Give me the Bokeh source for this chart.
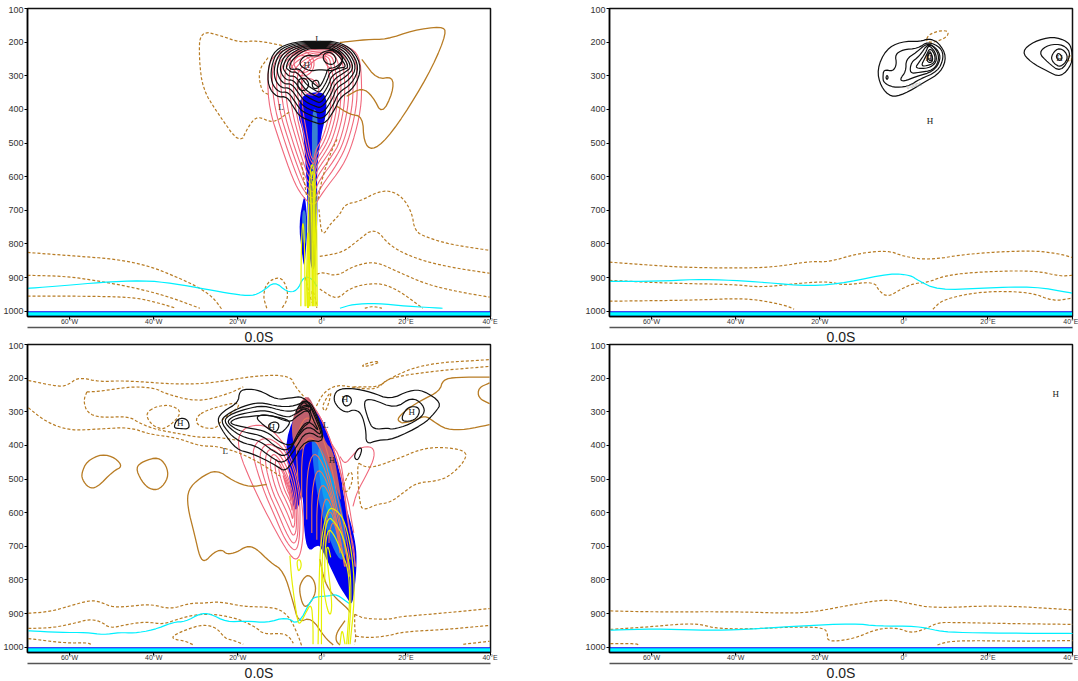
from bokeh.plotting import figure
from bokeh.layouts import column, row
from bokeh.models import FixedTicker, LinearAxis, Range1d
from bokeh.core.properties import value
from bokeh.embed import file_html
from bokeh.resources import INLINE

# ---- axes ----
P_TICKS = [100, 200, 300, 400, 500, 600, 700, 800, 900, 1000]
LON_TICKS = [-60, -40, -20, 0, 20, 40]
LON_LABELS = ["60°W", "40°W", "20°W", "0°", "20°E", "40°E"]
SECTION = "0.0S"

# ---- surface band ----
BAND_LON = [-70, 40]
BAND_TOP = [1000, 1000]
BAND_INNER = [1003, 1003]
BAND_LOW = [1013, 1013]
BAND_BOTTOM = [1016, 1016]

# ---- panel A (upper left) ----
A_BLUE_LON = [[-5.9, -4.8, 0, 1.2, 0.9, 0, -0.9, -1.2, -1.0, -1.5, -2.5, -3.2, -3.5, -4, -4.4],
              [-4.2, -5.5, -4.8, -4.2, -3.8, -3.4, -3.8]]
A_BLUE_P = [[409, 355, 346, 370, 421, 468, 540, 608, 700, 870, 880, 800, 640, 540, 468],
            [650, 740, 820, 875, 820, 740, 680]]
A_MID_LON = [[-2.4, -1.2, -0.9, -1.4, -1.9, -2.3], [-4.8, -3.7, -3.7, -4.5]]
A_MID_P = [[400, 400, 470, 600, 640, 600], [700, 700, 800, 800]]
A_RED_LON = [
    [-13, -12.5, -10, -6.9, -4.7, -1.9, 0.2, 5, 7.4, 9.3, 9.5, 9, 6, 0, -6, -12],
    [-12, -11.2, -8.8, -5.9, -4.2, -1.9, -0.2, 3.8, 6.2, 8.2, 8.5, 8, 5.4, 0, -5.6, -11],
    [-11, -10.2, -7.8, -5.2, -3.8, -1.9, -0.6, 3.0, 5.2, 7.2, 7.5, 7, 4.8, 0, -5, -10],
    [-10, -9.2, -6.9, -4.6, -3.4, -1.9, -0.9, 2.3, 4.3, 6.2, 6.5, 6, 4.2, 0, -4.4, -9],
    [-9, -8.2, -6.1, -4.1, -3.1, -1.9, -1.1, 1.7, 3.5, 5.3, 5.5, 5, 3.6, 0, -3.8, -8],
    [-8, -7.2, -5.4, -3.7, -2.9, -1.9, -1.2, 1.2, 2.8, 4.4, 4.6, 4, 3, 0, -3.2, -7],
    [-7, -6.3, -4.8, -3.4, -2.7, -1.9, -1.3, 0.8, 2.2, 3.6, 3.8, 3, 2.4, 0, -2.6, -6],
    [-6, -5.5, -4.2, -3.1, -2.5, -1.9, -1.4, 0.4, 1.6, 2.8, 3, 2.2, 1.8, 0, -2, -5],
    [-5, -4.6, -3.6, -2.8, -2.4, -1.9, -1.5, 0, 1.1, 2.1, 2.2, 1.4, 1.2, 0, -1.4, -4],
    [-8, -6, -3, -1.5, -3, -6],
    [-7, -5.4, -3.2, -2.2, -3.4, -5.6],
    [0.5, 2.2, 4.4, 4.8, 3, 1],
    [-5, -3.4, -1.5, -0.4, -2, -4.2],
]
A_RED_P = [
    [300, 400, 498, 608, 658, 690, 646, 569, 498, 400, 320, 240, 210, 205, 210, 240],
    [300, 400, 498, 600, 645, 670, 630, 560, 498, 400, 320, 245, 215, 210, 215, 245],
    [300, 400, 498, 590, 630, 650, 610, 550, 498, 400, 320, 250, 220, 215, 220, 250],
    [300, 400, 498, 580, 615, 630, 595, 540, 498, 400, 320, 255, 225, 220, 225, 255],
    [300, 400, 490, 570, 600, 610, 580, 530, 490, 400, 320, 260, 230, 225, 230, 260],
    [300, 400, 485, 560, 585, 595, 565, 520, 480, 400, 320, 265, 235, 230, 235, 265],
    [300, 400, 480, 550, 570, 580, 550, 510, 470, 400, 320, 270, 240, 235, 240, 270],
    [300, 400, 475, 540, 555, 565, 535, 500, 460, 400, 320, 275, 245, 240, 245, 275],
    [300, 400, 470, 530, 545, 550, 520, 490, 450, 400, 320, 280, 250, 245, 250, 280],
    [250, 225, 230, 265, 300, 300],
    [260, 238, 243, 270, 290, 290],
    [240, 225, 235, 265, 285, 270],
    [320, 305, 315, 345, 360, 350],
]
A_DASH_LON = [
    [-9.5, -15.4, -19.5, -23.5, -29, -29.2, -28.3, -24.9, -19.5, -17.6, -15.4, -11.6, -7.6],
    [-12.8, -15.2, -14.3, -12.8],
    [-70, -60.6, -48.7, -40.9, -34.4, -29.7, -25.9, -23.8],
    [-70, -60.6, -52.7, -44.9, -36.8, -29],
    [-70, -56.8, -44.9, -39.2, -34.7],
    [-13.1, -14, -13.1, -10, -8.3, -8.1, -9.5],
    [-0.7, 0, 1.9, 4.3, 5.5, 9, 13.1, 16.2, 19.2, 21.4, 22.1, 24.9, 30.4, 39.9],
    [-0.5, 5, 8.3, 12.6, 16.2, 22.6, 30.4, 39.9],
    [-1.2, 0.2, 3.6, 7.4, 12.6, 17.8, 24.9, 32.8, 39.9],
    [-0.5, 3.6, 6.7, 13.1, 17.8, 24],
    [10.2, 12.1, 14.3],
    [-3.9, -3, -2, -2.5, -1.5, -1.2],
    [3.6, 1.9, 0, -0.9],
    [-4.8, -4.3, -3.6],
]
A_DASH_P = [
    [210, 195, 201, 183, 165, 251, 340, 409, 504, 453, 418, 442, 406],
    [246, 287, 347, 355],
    [825, 834, 845, 866, 899, 926, 958, 994],
    [893, 896, 911, 929, 955, 991],
    [955, 955, 958, 974, 991],
    [991, 955, 914, 896, 926, 964, 991],
    [697, 780, 742, 712, 682, 673, 646, 641, 661, 706, 762, 780, 801, 819],
    [837, 825, 792, 750, 807, 845, 869, 887],
    [890, 884, 896, 866, 851, 881, 920, 943, 958],
    [934, 967, 929, 914, 934, 991],
    [991, 985, 991],
    [900, 950, 985, 930, 960, 990],
    [489, 534, 608, 667],
    [557, 608, 658],
]
A_SOLID_LON = [
    [4.3, 10.7, 15.4, 21.6, 28.5, 29.7, 26.4, 20.9, 15.4, 11.9, 10, 9.7, 6.7, 3.6],
    [9.5, 13.1, 16.9, 16.9, 14.3, 12.1, 9.5, 5.9],
]
A_SOLID_P = [
    [201, 192, 192, 165, 153, 171, 272, 391, 489, 522, 498, 421, 415, 391],
    [251, 311, 302, 349, 415, 361, 335, 361],
]
A_CYAN_LON = [
    [-70, -60.6, -52.7, -42.5, -35.4, -27.3, -21.1, -16.6, -14, -11.2, -8.3, -5.9, -4.3, -2.4, -1.2],
    [4.3, 7.4, 13.1, 20.2, 28.7],
]
A_CYAN_P = [
    [932, 923, 914, 908, 917, 935, 949, 955, 940, 911, 943, 940, 896, 902, 926],
    [991, 979, 976, 985, 991],
]
A_YELLOW_LON = [
    [-5, -4.9, -4.5, -4.1, -4],
    [-3.4, -3.2, -2.3, -1.3, -1.1],
    [-3, -2.8, -2.3, -1.6, -1.4],
    [-2.6, -2.5, -2.1, -1.8, -1.6],
    [-2.2, -2.2, -2, -1.9, -1.9],
    [-3.8, -3.6, -3.3, -3.1, -3],
    [-3.4, -3.3, -3.2],
]
A_YELLOW_P = [
    [985, 800, 720, 800, 985],
    [985, 640, 540, 640, 985],
    [985, 660, 560, 660, 985],
    [985, 680, 590, 680, 985],
    [985, 720, 620, 720, 985],
    [985, 880, 730, 880, 985],
    [990, 930, 990],
]
A_BLACK_LON = [
    [-0.5, -6.4, -11.2, -12.8, -12.8, -10.7, -8.3, -6.4, -5.2, -2.4, 0.5, 3.1, 4.3, 7.8, 9.5, 7.4, 3.6],
    [-0.5, -6, -10.6, -12.1, -12, -10.2, -8, -6, -4.8, -2.2, 0.3, 2.8, 3.9, 7.2, 8.9, 6.9, 3.3],
    [-0.5, -5.6, -10, -11.4, -11.2, -9.6, -7.6, -5.6, -4.5, -2, 0.2, 2.5, 3.5, 6.6, 8.3, 6.4, 3],
    [-0.5, -5.2, -9.4, -10.7, -10.4, -9, -7.2, -5.3, -4.2, -1.8, 0, 2.2, 3.1, 6, 7.7, 5.9, 2.7],
    [-0.5, -4.8, -8.8, -10, -9.6, -8.4, -6.8, -5, -3.9, -1.6, -0.2, 1.9, 2.7, 5.4, 7.1, 5.4, 2.4],
    [-0.5, -4.4, -8.2, -9.3, -8.8, -7.8, -6.4, -4.7, -3.6, -1.5, -0.3, 1.6, 2.3, 4.8, 6.5, 4.9, 2.1],
    [-0.5, -4, -7.6, -8.6, -8, -7.2, -6, -4.4, -3.3, -1.4, -0.4, 1.3, 1.9, 4.2, 5.9, 4.4, 1.8],
    [-0.5, -3.6, -7, -7.8, -7.2, -5.4, -3.9, -2.6, -1.3, -0.5, 0.9, 1.4, 3.5, 5.3, 3.9, 1.5],
    [-5.7, -4, -0.9, 0.2, 3.1, 5.5, 3.1, -0.5, -2.9],
    [0.2, 2.2, 3.6, 2.6, 0.5],
    [-5.7, -4, -2.9, -4, -5.7],
    [-2.4, -0.9, -0.5, -2.1],
]
A_BLACK_P = [
    [198, 198, 222, 275, 332, 364, 361, 400, 421, 436, 447, 400, 364, 335, 275, 222, 198],
    [201, 201, 225, 275, 322, 350, 347, 385, 405, 420, 430, 385, 350, 323, 275, 225, 201],
    [204, 204, 228, 275, 312, 337, 335, 370, 390, 405, 413, 370, 335, 312, 275, 228, 204],
    [207, 207, 232, 275, 302, 325, 323, 356, 375, 390, 396, 356, 323, 300, 275, 232, 207],
    [210, 210, 236, 275, 295, 313, 312, 342, 360, 375, 382, 342, 312, 290, 275, 236, 210],
    [213, 213, 240, 275, 288, 302, 300, 328, 345, 360, 366, 328, 300, 282, 275, 240, 213],
    [216, 216, 245, 275, 282, 290, 288, 314, 330, 345, 350, 314, 288, 276, 275, 245, 216],
    [219, 219, 250, 275, 282, 278, 300, 315, 330, 335, 300, 278, 275, 250, 225, 219],
    [266, 237, 243, 228, 222, 251, 287, 281, 287],
    [235, 228, 251, 269, 260],
    [311, 305, 326, 346, 340],
    [317, 311, 335, 340],
]
A_TEXT = ["L", "L", "H"]
A_TEXT_LON = [-9.7, -0.9, -3.6]
A_TEXT_P = [394, 192, 269]

# ---- panel B (upper right) ----
B_BLACK_LON = [
    [-6.4, -4.3, -0.7, 4, 5.9, 8.3, 10.2, 8.8, 4.8, 0, -3.1, -5.5],
    [-5, -4.8, -2.6, -1.7, -2.1, -0.2, 3.3, 5.7, 8.8, 9.5, 8.1, 3.6, 1, -2.6, -4.8],
    [-1, 0.5, 0.5, 2.9, 5.7, 8.1, 8.8, 7.1, 2.9, 0],
    [1.4, 1.7, 3.6, 5.9, 8.1, 8.3, 6.9, 3.6],
    [2.6, 3.6, 5.2, 5.9, 7.6, 7.8, 5.9],
    [4, 5.2, 6.2, 7.4, 7.4, 5.9],
    [5.5, 6.2, 6.9, 6.7, 5.7],
    [5.5, 6.2, 6.7, 6.7, 6],
    [-4.3, -4, -3.7, -4],
    [28, 30.9, 35.4, 39, 40, 40, 37.3, 34.2, 30.2],
    [32, 34.4, 38, 39.9, 37.3, 34.2],
    [34.9, 36.6, 38.5, 39, 37.3, 35.6],
    [36.1, 36.8, 37.8, 37],
]
B_BLACK_P = [
    [281, 222, 198, 198, 189, 201, 243, 290, 320, 355, 364, 332],
    [305, 281, 287, 266, 237, 222, 219, 198, 216, 246, 287, 311, 332, 335, 320],
    [311, 287, 251, 231, 201, 222, 251, 287, 302, 317],
    [293, 260, 243, 201, 228, 257, 284, 290],
    [278, 260, 231, 207, 231, 260, 278],
    [272, 243, 216, 237, 260, 269],
    [249, 228, 246, 260, 260],
    [240, 225, 240, 255, 255],
    [305, 298, 305, 312],
    [228, 198, 183, 198, 222, 266, 305, 287, 260],
    [231, 207, 207, 237, 290, 260],
    [243, 216, 228, 251, 275, 263],
    [243, 231, 246, 257],
]
B_DASH_LON = [
    [-70, -60, -53, -40.4, -30.9, -22.1, -18, -10.9, -3.8, 0, 5.9, 15.9, 30.2, 36.6, 40],
    [-70, -55.3, -40.4, -34, -25.2, -18, -14.3, -7.1, -5.9, -3.8, -0.7, 2.4, 5.7, 9.3, 15.9, 30.9, 37.3, 40],
    [-70, -49.9, -38, -31.6, -27.6, -26.1],
    [6.9, 9.3, 19, 30.2, 35.4, 40],
    [5.2, 5.9, 8.8, 10.7, 10.2, 7.1, 5.2],
    [38.9, 39.5, 40, 39.5, 38.9],
]
B_DASH_P = [
    [854, 863, 869, 872, 869, 851, 854, 828, 819, 837, 848, 828, 819, 828, 840],
    [908, 917, 920, 929, 917, 911, 923, 911, 940, 958, 934, 917, 914, 896, 884, 878, 896, 893],
    [970, 967, 961, 973, 985, 994],
    [994, 964, 940, 943, 970, 961],
    [198, 177, 165, 168, 186, 201, 198],
    [250, 238, 250, 260, 250],
]
B_CYAN_LON = [[-70, -58.4, -49.9, -40.4, -33.3, -22.1, -13.3, -3.1, 1.7, 3.3, 8.1, 19, 30.9, 40]]
B_CYAN_P = [[911, 911, 905, 908, 914, 926, 914, 887, 893, 908, 937, 931, 926, 946]]
B_TEXT = ["H", "H", "H"]
B_TEXT_LON = [6.2, 5.9, 37]
B_TEXT_P = [433, 246, 246]
B_NOTE = ["0.0001"]
B_NOTE_LON = [2.4]
B_NOTE_P = [328]

# ---- panel C (lower left) ----
C_BLUE_LON = [[-8.8, -5.2, -0.5, 4.3, 5.5, 6.7, 8.1, 8.3, 7.8, 7.1, 5.9, 4.3, 2.6, 0, -0.9, -3.3, -4.3, -4.5, -5.9, -7.1, -7.8]]
C_BLUE_P = [[382, 278, 293, 471, 575, 620, 694, 753, 828, 878, 851, 822, 777, 709, 694, 718, 649, 531, 599, 575, 486]]
C_MID_LON = [[-2.9, 0.7, 3.8, 5.7, 5.7, 3.8, 0.9, -1.4]]
C_MID_P = [[352, 382, 531, 649, 739, 739, 649, 531]]
C_CORE_LON = [[-0.9, 1.4, 3.8, 3.1, 0.9, -0.9]]
C_CORE_P = [[397, 412, 560, 649, 590, 471]]
C_MAUVE_LON = [[-7.1, -4.5, -2.4, 0.7, 2.6, 3.8, 4.8, 3.6, 1.9, -0.5, -2.9, -5.7, -7.1]]
C_MAUVE_P = [[317, 257, 257, 391, 412, 492, 575, 531, 471, 397, 382, 427, 382]]
C_RED_LON = [
    [-19.5, -17.1, -14.3, -11.2, -8.8, -6.4, -5, -4.3, -4.8, -6.2, -8.8, -12.4, -15.2, -18.3, -20, -19.5],
    [-16.5, -14, -11.2, -8.8, -6.6, -5.6, -5.2, -5.2, -6.6, -9, -12, -14.5, -16, -16.5],
    [-15, -13, -10.5, -8.5, -6.8, -5.9, -5.6, -5.8, -7, -9.3, -12, -14, -15],
    [-13.6, -12, -9.8, -8, -6.9, -6.2, -6, -6.2, -7.4, -9.5, -11.6, -13, -13.6],
    [-12.4, -11, -9, -7.6, -7, -6.5, -6.4, -6.6, -7.8, -9.6, -11.2, -12, -12.4],
    [-11.2, -9.9, -8.3, -7.3, -7, -6.8, -6.8, -7, -8, -9.6, -10.8, -11, -11.2],
    [-10.2, -9, -7.8, -7.2, -7.1, -7, -7.2, -8.2, -9.5, -10.2, -10.2],
    [-9.2, -8.3, -7.6, -7.4, -7.4, -7.6, -8.3, -9.2, -9.2],
    [4.3, 5.5, 7.1, 9, 12.1, 12.6, 10.9, 8.3, 7.4],
    [2.4, 4.3, 5.5, 6.5, 7, 7.6],
    [-4, -1.5, 1, 3, 4.7, 5.5, 6.3, 7.6, 7.9],
    [-3.4, -1, 1.6, 3.6, 5.1, 6, 7, 8],
]
C_RED_P = [
    [427, 501, 575, 649, 703, 744, 724, 649, 560, 471, 397, 347, 338, 347, 376, 427],
    [430, 530, 610, 680, 715, 700, 649, 560, 471, 410, 380, 380, 400, 430],
    [440, 530, 600, 660, 695, 680, 640, 560, 480, 420, 395, 400, 440],
    [450, 530, 590, 640, 670, 660, 630, 560, 490, 435, 410, 415, 450],
    [460, 530, 580, 620, 645, 640, 610, 560, 500, 450, 425, 430, 460],
    [470, 530, 570, 600, 620, 610, 590, 555, 505, 465, 440, 445, 470],
    [480, 530, 560, 580, 595, 585, 550, 510, 475, 460, 480],
    [490, 530, 550, 565, 565, 540, 515, 490, 490],
    [433, 456, 433, 406, 403, 433, 480, 540, 581],
    [397, 433, 531, 580, 620, 660],
    [257, 290, 350, 420, 490, 560, 640, 700, 760],
    [270, 300, 370, 440, 510, 600, 680, 760],
]
C_SALMON_LON = [
    [-5.7, -6.2, -4, -0.9, 1.9, 3.8, 5.5, 6.7],
    [-4.8, -4.8, -2.9, 0, 2.6, 4.8, 6.5],
    [-3.6, -3.6, -1.9, 0.9, 3.3, 5.5, 6.6],
    [-2.4, -2.4, -0.9, 1.7, 3.8, 5.6],
    [-1.2, -1.2, 0, 2.4, 4.2, 5.4],
    [-0.2, -0.2, 1, 2.9, 4.4],
    [0.8, 0.8, 1.9, 3.4, 4.4],
    [1.7, 1.7, 2.7, 3.8, 4.3],
]
C_SALMON_P = [
    [501, 382, 308, 338, 441, 560, 649, 739],
    [560, 412, 367, 412, 531, 649, 768],
    [620, 480, 412, 470, 590, 700, 790],
    [660, 530, 460, 520, 640, 760],
    [680, 570, 505, 560, 670, 760],
    [700, 610, 545, 600, 700],
    [700, 640, 585, 640, 710],
    [690, 660, 620, 670, 720],
]
C_DASH_LON = [
    [-69.8, -62.3, -60.2, -57.9, -52.8, -47.2, -33.8, -25.8, -15.5, -7.6, -6.4, -4],
    [-55.9, -52.7, -44.8, -39.3, -37.7, -29.8, -22.7, -18.7],
    [-55.9, -56.7, -55.8, -52.7, -46, -43.2, -39.3, -34, -29, -25, -20],
    [-69.8, -65.5, -59.9, -52.8, -45.7, -40.9, -34.5, -29, -25, -19.5, -14.7, -10],
    [-41.8, -39.3, -35.7, -33.1, -37, -39.3, -41.2, -41.8],
    [-29.8, -27, -20.3, -19.5, -23.8, -25, -27.3, -29.8, -29.8],
    [-69.8, -64.6, -59.9, -55.1, -52.7, -49.6, -44.8, -40.5, -36.1, -31.4, -28.2, -24.2, -18.7, -13.1, -10, -7.6, -5.6, -4.8],
    [-69.8, -63.9, -58.3, -55.5, -52.7, -50.4, -46.4, -41.7, -37.7, -34.5, -29.8, -25, -19.5, -15.5, -13.9, -9.2, -7.6, -6.8],
    [-69.8, -60.7, -55.9, -54.7],
    [-30.7, -32.6, -35.3, -35.5, -32.2, -28.2, -25, -23, -21.1, -18.7],
    [9.4, 11.8, 13.8, 13, 10.2, 9.4],
    [-1.3, 0.3, 3.5, 8.2, 13, 15.4, 24.1, 39.9],
    [7.5, 13.8, 15.8, 26.5, 39.9],
    [0.8, 0, 1.5, 2.3, 1.5, 0.8],
    [8.3, 9.8, 12.2, 18.6, 23.3, 28, 34.4, 34, 30.4, 27.3, 22.5, 19.3, 16.2, 13, 10.2, 9, 8.3],
    [6.7, 5.9, 4.7, 6, 7.2, 7.3, 6.7],
    [7.8, 10.2, 16.2, 18.5, 25.7, 39.9],
    [8.1, 11.4, 16.2, 19.3, 29.6, 39.9],
    [33.6, 39.9],
    [7.8, 7.8, 8.1, 7.8],
]
C_DASH_P = [
    [207, 226, 219, 197, 211, 207, 219, 214, 192, 192, 224, 259],
    [241, 239, 224, 231, 244, 271, 249, 226],
    [241, 268, 303, 318, 313, 335, 353, 365, 377, 375, 385],
    [288, 331, 356, 351, 346, 367, 377, 402, 402, 422, 452, 491],
    [303, 283, 280, 303, 351, 348, 328, 303],
    [313, 293, 271, 285, 323, 348, 350, 338, 313],
    [899, 894, 877, 860, 865, 882, 877, 872, 887, 869, 869, 864, 879, 880, 887, 912, 966, 996],
    [944, 942, 927, 917, 922, 944, 932, 924, 932, 917, 902, 902, 917, 942, 961, 958, 971, 988],
    [974, 988, 986, 992],
    [992, 981, 976, 966, 947, 932, 942, 974, 979, 991],
    [163, 152, 150, 157, 166, 163],
    [283, 244, 219, 229, 234, 204, 157, 145],
    [226, 226, 199, 179, 165],
    [300, 285, 250, 240, 280, 300],
    [447, 462, 466, 437, 412, 404, 415, 447, 491, 506, 511, 541, 570, 575, 592, 580, 447],
    [476, 496, 531, 541, 511, 486, 476],
    [902, 915, 917, 909, 902, 885],
    [967, 972, 965, 954, 947, 935],
    [991, 982],
    [902, 945, 967, 991],
]
C_SOLID_LON = [
    [-57.1, -55.9, -52.3, -49.1, -47.4, -49.6, -53.5, -55.5, -57, -57.1],
    [-44.3, -42.5, -38.9, -36.9, -36.5, -38.5, -40.9, -42.9, -44.3],
    [-13.1, -17.1, -21.1, -25, -29, -31.8, -32, -30.2, -29, -27.8, -25.8, -23.8, -22.6, -20.3, -17.9, -15.8, -12.2, -9.1, -6.8, -5.6, -2.5, 0.7, 2.7],
    [-3.2, -1.7, -1.4, -2.9, -4.4, -5.5, -4.6, -3.2],
    [-0.5, 0.7, 2.7, 5.9, 6.8],
    [5.5, 3.5, 3.3, 4.3, 4.7],
    [19, 17.8, 19.7, 23.3, 28, 28.8, 32, 39.9],
    [19, 21.7, 24.5, 26.5, 29.6, 34.4, 39.9],
    [39.9, 37.2, 37.2, 39.9],
]
C_SOLID_P = [
    [481, 447, 425, 437, 463, 476, 526, 526, 501, 481],
    [466, 447, 434, 461, 496, 531, 531, 506, 466],
    [516, 524, 506, 471, 496, 531, 580, 669, 734, 746, 719, 709, 724, 718, 699, 704, 748, 773, 867, 926, 911, 971, 993],
    [783, 803, 837, 872, 882, 827, 798, 783],
    [738, 807, 847, 882, 897],
    [921, 956, 981, 993],
    [333, 323, 298, 268, 239, 204, 197, 197],
    [333, 328, 311, 328, 353, 353, 338],
    [214, 229, 259, 276],
]
C_CYAN_LON = [[-69.8, -62.3, -55.9, -52, -48, -44.8, -40.1, -35.3, -32.5, -29, -26.6, -22.7, -17.9, -13.1, -8.4, -5.6, -2.5, -1.3, 1.9, 3.5, 6.7]]
C_CYAN_P = [[951, 956, 956, 963, 956, 958, 949, 925, 924, 900, 900, 925, 922, 927, 910, 934, 857, 850, 847, 842, 872]]
C_YELLOW_LON = [
    [-7.6, -7.2, -6, -5.4, -4, -2.5, -2.1, -2.1],
    [-6, -5.6, -4.8, -5.2, -6],
    [-0.9, -0.6, -0.1, 1.5, 3.3, 5.5, 7.4, 7.8, 6.7],
    [-0.1, -0.1, 0.3, 1.5, 3.1, 5.1, 6.7, 7, 6.3],
    [0.7, 0.7, 1.5, 3.1, 4.7, 6.3, 6.7, 5.9],
    [-0.1, 0.7, 1.9, 2.5, 1.5, 1, 1.5, 2.1],
    [4.3, 4.8, 5.5],
]
C_YELLOW_P = [
    [728, 798, 906, 936, 902, 867, 930, 991],
    [743, 778, 758, 738, 743],
    [991, 758, 669, 585, 590, 624, 738, 857, 991],
    [991, 807, 679, 610, 629, 669, 758, 857, 991],
    [807, 709, 644, 669, 718, 768, 857, 991],
    [758, 857, 911, 877, 768, 709, 699, 733],
    [991, 941, 991],
]
C_BLACK_LON = [
    [2.7, 3.5, 7.1, 11.8, 16.2, 20.9, 24.1, 28.5, 26.9, 24.1, 17, 13.4, 10.5, 10.5, 9.4, 7.5, 5.9, 4, 2.7],
    [9.8, 11.8, 17.4, 21.3, 24.1, 24.5, 20.9, 16.6, 15.8, 12.2, 11, 9.8],
    [19, 20.5, 22.9, 23.3, 22.1, 19.3, 19],
    [4.7, 5.7, 7.1, 6.9, 5.5, 4.7],
    [7.6, 8.7, 9.6, 9, 8.3, 7.6],
    [-19.6, -17.9, -14.8, -10.8, -7.6, -4.4, -2, 1.1, -4, -6.8, -8.8, -10.8, -13.5, -17.1, -20.3, -23.4, -25, -23.4, -19.9, -19.6],
    [-24.1, -22.7, -18.7, -14.8, -10, -6.4, -3.2, -1.3, 0.7, -3.6, -6.4, -9.2, -12.4, -15.5, -19.1, -21.9, -24.1],
    [-23.4, -21.9, -17.9, -13.9, -9.2, -6.4, -3.2, -1.7, 0.3, -3.2, -6, -8.4, -11.6, -14.7, -18.3, -21.1, -23.4],
    [-22.7, -21.1, -17.1, -13.1, -8.4, -6.4, -3.2, -2.1, -0.5, -3.2, -5.6, -7.6, -10.8, -13.9, -17.9, -20.3, -22.7],
    [-22.3, -20.3, -16.3, -12.4, -7.6, -6, -3.2, -2.5, -4.8, -6.8, -10, -13.1, -17.5, -22.3],
    [-15.5, -13.5, -7.9, -7.6, -10.4, -15.1, -15.5],
    [-12.8, -11.2, -10, -10.8, -12.4, -12.8],
    [-6.2, -4.4, -2.5, -2.8, -4.4, -6, -6.2],
    [-5.6, -4.3, -2.9, -3.6, -5.6],
    [-35.3, -34.5, -32.9, -31.7, -31.5, -33.7, -35.3],
]
C_BLACK_P = [
    [264, 234, 229, 242, 264, 236, 236, 273, 303, 338, 382, 384, 397, 353, 303, 293, 303, 290, 264],
    [268, 261, 291, 256, 278, 308, 338, 353, 348, 353, 323, 268],
    [313, 285, 285, 303, 325, 330, 313],
    [264, 249, 259, 278, 285, 264],
    [432, 407, 409, 434, 445, 432],
    [239, 232, 236, 264, 259, 254, 293, 392, 382, 447, 478, 461, 442, 422, 412, 362, 323, 298, 273, 239],
    [328, 308, 283, 271, 285, 283, 264, 303, 387, 353, 412, 457, 432, 402, 392, 367, 328],
    [328, 308, 291, 281, 298, 298, 273, 313, 377, 338, 377, 437, 417, 387, 377, 358, 328],
    [331, 313, 301, 295, 318, 308, 283, 323, 362, 323, 358, 417, 407, 372, 362, 353, 331],
    [335, 318, 313, 308, 333, 313, 291, 328, 348, 402, 392, 358, 348, 335],
    [313, 308, 323, 338, 372, 328, 313],
    [338, 328, 338, 362, 353, 338],
    [298, 262, 283, 303, 288, 303, 298],
    [293, 268, 288, 283, 293],
    [348, 323, 318, 328, 351, 350, 348],
]
C_TEXT = ["H", "L", "H", "L", "H", "H", "H"]
C_TEXT_LON = [-33.7, -23, -11.9, 0.9, 2.4, 5.5, 21.4]
C_TEXT_P = [332, 418, 344, 338, 444, 263, 302]

# ---- panel D (lower right) ----
D_DASH_LON = [
    [-69.8, -59.3, -40.3, -27.6, -21.3, -11.8, -3.9, 0.9, 7.2, 22.3, 40.3],
    [-69.8, -59.3, -52.2, -48.2, -44.3, -34.8, -25.3, -18.9, -18.1, -18.3, -16.9, -11.8, -6.3, -1.5, 1.7, 4.8, 8, 11.2, 22.3, 40.3],
    [-69.8, -63.7, -62.9],
    [8, 10.4, 15.9, 27.8, 40.3],
]
D_DASH_P = [
    [892, 895, 894, 899, 895, 872, 857, 869, 884, 875, 889],
    [947, 938, 930, 932, 945, 945, 939, 942, 961, 976, 983, 974, 945, 942, 958, 947, 927, 926, 929, 932],
    [989, 989, 994],
    [993, 983, 980, 982, 980],
]
D_CYAN_LON = [[-69.8, -59.3, -49, -40.3, -25.3, -11.8, -6.3, 3.2, 8, 12, 23.8, 40.3]]
D_CYAN_P = [[949, 945, 949, 949, 937, 929, 937, 937, 951, 956, 958, 959]]
D_TEXT = ["H"]
D_TEXT_LON = [36.1]
D_TEXT_P = [248]

BROWN = "#b87c24"
RED = "#f0687c"
SALMON = "#e8745c"
YELLOW = "#e6f000"
CYAN = "#00f0ff"
BLUE = "#0000f0"


def closed(xs):
    return [list(x) + [x[0]] for x in xs]


def rounded(xs, ys, passes=2):
    """Corner-rounded drawing path through the read vertices of one contour."""
    n = min(len(xs), len(ys))
    xs, ys = list(xs[:n]), list(ys[:n])
    loop = xs[0] == xs[-1] and ys[0] == ys[-1] and n > 3
    for _ in range(passes):
        nx, ny = ([], []) if loop else ([xs[0]], [ys[0]])
        for i in range(len(xs) - 1):
            nx += [0.75 * xs[i] + 0.25 * xs[i + 1], 0.25 * xs[i] + 0.75 * xs[i + 1]]
            ny += [0.75 * ys[i] + 0.25 * ys[i + 1], 0.25 * ys[i] + 0.75 * ys[i + 1]]
        if loop:
            nx.append(nx[0])
            ny.append(ny[0])
        else:
            nx.append(xs[-1])
            ny.append(ys[-1])
        xs, ys = nx, ny
    return xs, ys


def panel(width, right):
    fig = figure(width=width, height=None, frame_height=308, output_backend="svg", toolbar_location=None,
                 x_range=Range1d(-70, 40.1), y_range=Range1d(1015.5, 100),
                 x_axis_location=None, y_axis_location=None,
                 min_border_left=27, min_border_right=right,
                 min_border_top=2, min_border_bottom=26)
    fig.grid.visible = False
    fig.outline_line_color = "#111111"
    fig.outline_line_width = 1.5

    yaxis = LinearAxis(ticker=FixedTicker(ticks=P_TICKS))
    yaxis.axis_line_color = "#000000"
    yaxis.axis_line_width = 1.5
    yaxis.major_tick_out = 3
    yaxis.major_tick_in = 0
    yaxis.minor_tick_out = 0
    yaxis.major_label_standoff = 1
    yaxis.major_label_text_font = "Liberation Sans"
    yaxis.major_label_text_font_size = "9px"
    yaxis.major_label_text_color = "#333333"
    fig.add_layout(yaxis, "left")

    xaxis = LinearAxis(ticker=FixedTicker(ticks=LON_TICKS),
                       major_label_overrides=dict(zip(LON_TICKS, LON_LABELS)))
    xaxis.axis_line_color = "#000000"
    xaxis.axis_line_width = 1.5
    xaxis.major_tick_out = 3
    xaxis.major_tick_in = 0
    xaxis.minor_tick_out = 0
    xaxis.major_label_standoff = -2
    xaxis.major_label_text_font = "Liberation Sans"
    xaxis.major_label_text_font_size = "7px"
    xaxis.major_label_text_color = "#333333"
    fig.add_layout(xaxis, "below")

    title = LinearAxis(ticker=FixedTicker(ticks=[]), axis_label=SECTION)
    title.axis_line_color = "#555555"
    title.axis_line_width = 1.5
    title.major_tick_out = 0
    title.major_tick_in = 0
    title.minor_tick_out = 0
    title.major_label_standoff = 0
    title.major_label_text_font_size = "0px"
    title.axis_label_standoff = 1
    title.axis_label_text_font = "Liberation Sans"
    title.axis_label_text_font_style = "normal"
    title.axis_label_text_font_size = "14px"
    title.axis_label_text_color = "#222222"
    fig.add_layout(title, "below")

    fig.varea(BAND_LON, BAND_TOP, BAND_BOTTOM, fill_color=BLUE)
    fig.varea(BAND_LON, BAND_INNER, BAND_LOW, fill_color="#00ffff")
    return fig


def lines(fig, xs, ys, color, dash="solid", width=1.1):
    paths = [rounded(x, y) for x, y in zip(xs, ys)]
    fig.multi_line([q[0] for q in paths], [q[1] for q in paths], line_color=color,
                   line_dash=dash, line_width=width, line_join="round")


def fills(fig, xs, ys, color):
    paths = [rounded(x, y) for x, y in zip(closed(xs), closed(ys))]
    fig.patches([q[0] for q in paths], [q[1] for q in paths], fill_color=color, line_color=None)


def labels(fig, lons, ps, texts):
    fig.text(lons, ps, texts, text_font=value("Liberation Serif"), text_font_size="9px",
             text_align="center", text_baseline="middle", text_color="#222222")


DASH = "3 2"

a = panel(582, 92)
fills(a, A_BLUE_LON, A_BLUE_P, BLUE)
fills(a, A_MID_LON, A_MID_P, "#3a80d0")
lines(a, closed(A_RED_LON), closed(A_RED_P), RED)
lines(a, A_DASH_LON, A_DASH_P, BROWN, DASH, 1.2)
lines(a, A_SOLID_LON, A_SOLID_P, BROWN, width=1.3)
lines(a, A_CYAN_LON, A_CYAN_P, CYAN, width=1.2)
lines(a, A_YELLOW_LON, A_YELLOW_P, YELLOW, width=1.2)
lines(a, closed(A_BLACK_LON), closed(A_BLACK_P), "#111111", width=1.2)
labels(a, A_TEXT_LON, A_TEXT_P, A_TEXT)

b = panel(496, 6)
lines(b, B_DASH_LON, B_DASH_P, BROWN, DASH, 1.2)
lines(b, B_CYAN_LON, B_CYAN_P, CYAN, width=1.2)
lines(b, closed(B_BLACK_LON), closed(B_BLACK_P), "#111111", width=1.2)
labels(b, B_TEXT_LON, B_TEXT_P, B_TEXT)
b.text(B_NOTE_LON, B_NOTE_P, B_NOTE, text_font=value("Liberation Sans"), text_font_size="5px",
       text_align="center", text_baseline="middle", text_color="#999999", angle=0.25)

c = panel(582, 92)
fills(c, C_BLUE_LON, C_BLUE_P, BLUE)
fills(c, C_MID_LON, C_MID_P, "#1a70f0")
fills(c, C_CORE_LON, C_CORE_P, "#10a0f0")
fills(c, C_MAUVE_LON, C_MAUVE_P, "#c0606e")
lines(c, C_RED_LON, C_RED_P, RED)
lines(c, C_SALMON_LON, C_SALMON_P, SALMON)
lines(c, C_DASH_LON, C_DASH_P, BROWN, DASH, 1.2)
lines(c, C_SOLID_LON, C_SOLID_P, BROWN, width=1.3)
lines(c, C_CYAN_LON, C_CYAN_P, CYAN, width=1.2)
lines(c, C_YELLOW_LON, C_YELLOW_P, YELLOW, width=1.2)
lines(c, C_BLACK_LON, C_BLACK_P, "#111111", width=1.2)
labels(c, C_TEXT_LON, C_TEXT_P, C_TEXT)

d = panel(496, 6)
lines(d, D_DASH_LON, D_DASH_P, BROWN, DASH, 1.2)
lines(d, D_CYAN_LON, D_CYAN_P, CYAN, width=1.2)
labels(d, D_TEXT_LON, D_TEXT_P, D_TEXT)

page = column(row(a, b), row(c, d, margin=(-5, 0, 0, 0)), margin=(6, 0, -4, 0))
open("out.html", "w").write(file_html(page, INLINE))
